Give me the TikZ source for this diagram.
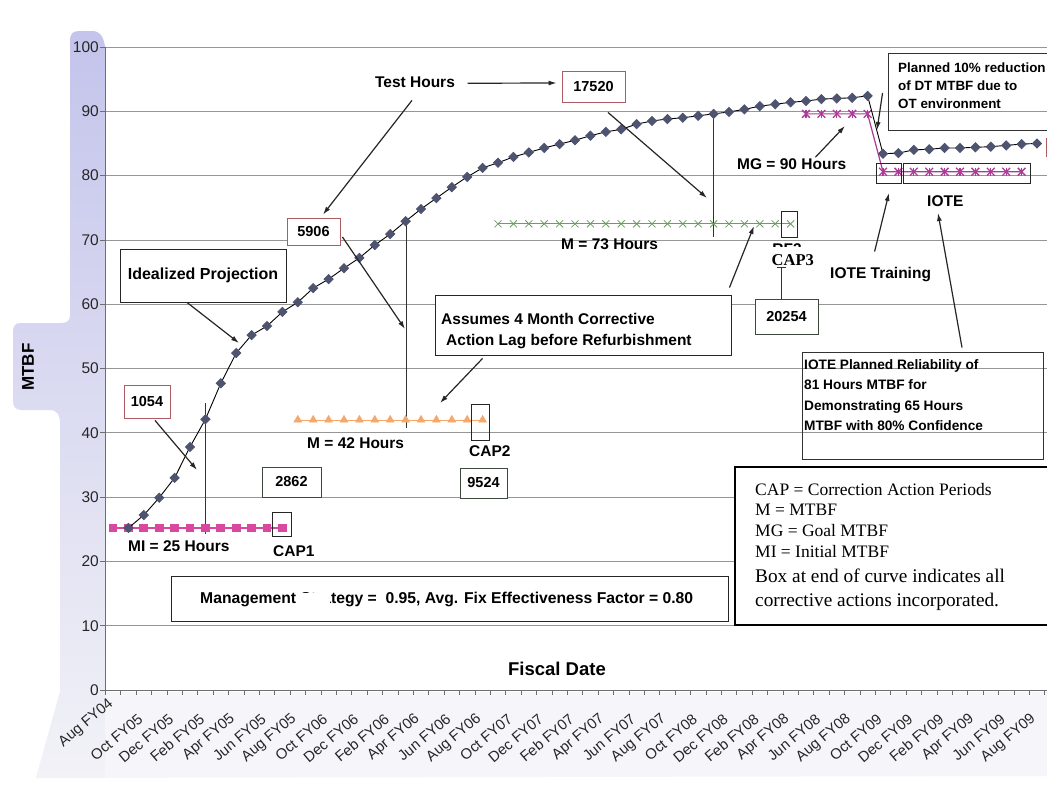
\documentclass[tikz,border=0pt]{standalone}
\usepackage{fontspec}
\setmainfont{Liberation Sans}
\newfontfamily\serifnote{Liberation Serif}
\usetikzlibrary{arrows.meta,plotmarks,calc}

\definecolor{panelTop}{RGB}{196,196,236}
\definecolor{panelMid}{RGB}{214,214,241}
\definecolor{panelBot}{RGB}{242,242,247}
\definecolor{band}{RGB}{246,246,250}
\definecolor{gridc}{RGB}{150,150,150}
\definecolor{diam}{RGB}{78,84,112}
\definecolor{sqpink}{RGB}{216,72,158}
\definecolor{triorange}{RGB}{244,168,108}
\definecolor{xgreen}{RGB}{108,158,98}
\definecolor{starmag}{RGB}{172,58,150}
\definecolor{boxred}{RGB}{172,92,98}
\definecolor{boxdark}{RGB}{62,72,62}
\definecolor{axisc}{RGB}{110,110,110}

\begin{document}
\begin{tikzpicture}[x=1pt,y=-1pt,
  lab/.style={font=\fontsize{15.5}{18}\selectfont\bfseries, inner sep=0pt},
  labsmall/.style={font=\fontsize{13.4}{16}\selectfont\bfseries, inner sep=0pt, anchor=base west},
  ylab/.style={font=\fontsize{15.5}{18}\selectfont, text=black!85, inner sep=0pt},
  xlab/.style={font=\fontsize{14.8}{17}\selectfont, text=black!85, inner sep=0pt, rotate=40, anchor=east},
  numbox/.style={draw=#1, fill=white, line width=0.9pt, font=\fontsize{14.5}{17}\selectfont\bfseries, inner sep=0pt},
  plainbox/.style={draw=black!85, fill=white, line width=0.9pt, inner sep=0pt},
  openbox/.style={draw=black!80, line width=0.9pt, inner sep=0pt},
  capbox/.style={draw=black!85, line width=0.9pt},
  pointer/.style={black!85, line width=1.2pt, -{Latex[length=8pt,width=5pt]}},
  guide/.style={black!80, line width=1pt},
  note/.style={font=\serifnote\fontsize{17.5}{21}\selectfont, inner sep=0pt, anchor=base west},
  notebig/.style={font=\serifnote\fontsize{19.3}{23}\selectfont, inner sep=0pt, anchor=base west},
  gridline/.style={gridc, line width=0.8pt},
]
\useasboundingbox (0,0) rectangle (1047,795);
\fill[white] (0,0) rectangle (1047,795);

% tinted panel behind the value axis and the band below the date axis
\fill[band] (36,778) -- (60,692) -- (1047,692) -- (1047,776) -- cycle;
\shade[top color=panelTop, middle color=panelMid, bottom color=panelBot]
  (105,46) .. controls (103,36) and (100,31) .. (92,31) -- (79,31)
  .. controls (73,31) and (70,34) .. (70,40) -- (70,315)
  .. controls (70,321) and (67,323) .. (61,323) -- (21,323)
  .. controls (15,323) and (13,326) .. (13,332) -- (13,401)
  .. controls (13,407) and (16,410) .. (22,410) -- (50,410)
  .. controls (57,410) and (60,415) .. (60,423) -- (60,692)
  -- (36,778) -- (105,778) -- cycle;

% grid and axes
\foreach \v in {10,20,...,100}
  \draw[gridline] (105,{690-6.43*\v}) -- (1047,{690-6.43*\v});
\draw[axisc, line width=0.9pt] (105,47) -- (105,690) -- (1047,690);
\foreach \v in {0,10,...,100}{
  \draw[axisc, line width=0.8pt] (100,{690-6.43*\v}) -- (105,{690-6.43*\v});
  \node[ylab, anchor=east] (yl\v) at (99,{690-6.43*\v}) {\v};
}
\foreach \k in {0,...,61}
  \draw[axisc, line width=0.8pt] ({105.3+15.4*\k},690) -- ++(0,5);
\node[xlab] (xl0) at (111.5,702) {Aug FY04};
\foreach \lab [count=\j from 1] in {Oct FY05, Dec FY05, Feb FY05, Apr FY05, Jun FY05, Aug FY05,
  Oct FY06, Dec FY06, Feb FY06, Apr FY06, Jun FY06, Aug FY06,
  Oct FY07, Dec FY07, Feb FY07, Apr FY07, Jun FY07, Aug FY07,
  Oct FY08, Dec FY08, Feb FY08, Apr FY08, Jun FY08, Aug FY08,
  Oct FY09, Dec FY09, Feb FY09, Apr FY09, Jun FY09, Aug FY09}
  \node[xlab] (xl\j) at ({109.8+30.8*\j},717) {\lab};

% guide lines from the curve to the milestone levels
\draw[guide] (205,403) -- (205,534);
\draw[guide] (406,222) -- (406,428);
\draw[guide] (713,112) -- (713,237);

% data series: month index along x, MTBF along y
\begin{scope}[shift={(113,690)}, x=15.4pt, y=6.43pt]
  \draw[sqpink, line width=1.6pt] plot[mark=square*, mark size=3.6pt, domain=0:11, samples=12] (\x,25.2);
  \draw[triorange, line width=0.8pt] plot[mark=triangle*, mark size=4.3pt, domain=12:24, samples=13] (\x,42);
  \draw[xgreen, line width=0.8pt] plot[mark=x, mark size=5pt, domain=25:44, samples=20] (\x,72.5);
  \draw[starmag, line width=1.2pt] plot coordinates {(45,89.6) (49,89.6) (50,80.6) (59,80.6)};
  \draw[starmag, line width=1.3pt] plot[only marks, mark=x, mark size=5.5pt] coordinates
    {(45,89.6) (46,89.6) (47,89.6) (48,89.6) (49,89.6) (50,80.6) (51,80.6) (52,80.6) (53,80.6)
     (54,80.6) (55,80.6) (56,80.6) (57,80.6) (58,80.6) (59,80.6)};
  \draw[starmag, line width=1.3pt] plot[only marks, mark=|, mark size=4.2pt] coordinates
    {(45,89.6) (46,89.6) (47,89.6) (48,89.6) (49,89.6) (50,80.6) (51,80.6) (52,80.6) (53,80.6)
     (54,80.6) (55,80.6) (56,80.6) (57,80.6) (58,80.6) (59,80.6)};
  \draw[black, line width=0.9pt] plot[mark=square*, mark size=3.2pt,
      mark options={rotate=45, fill=diam, draw=diam}] coordinates {
    (1,25.2) (2,27.2) (3,29.9) (4,33.0) (5,37.8) (6,42.1) (7,47.7) (8,52.4) (9,55.2) (10,56.6)
    (11,58.8) (12,60.3) (13,62.5) (14,63.9) (15,65.6) (16,67.2) (17,69.2) (18,70.9) (19,72.9)
    (20,74.8) (21,76.5) (22,78.2) (23,79.8) (24,81.2) (25,82.0) (26,82.9) (27,83.6) (28,84.3)
    (29,84.9) (30,85.5) (31,86.2) (32,86.8) (33,87.2) (34,88.0) (35,88.5) (36,88.8) (37,89.0)
    (38,89.3) (39,89.6) (40,89.9) (41,90.3) (42,90.8) (43,91.1) (44,91.4) (45,91.6) (46,91.9)
    (47,92.0) (48,92.1) (49,92.4) (50,83.4) (51,83.5) (52,84.0) (53,84.1) (54,84.3) (55,84.3)
    (56,84.4) (57,84.5) (58,84.7) (59,84.9) (60,85.0)};
\end{scope}

% corrective action period boxes
\draw[capbox] (272,512) rectangle (291,536);
\draw[capbox] (471,404) rectangle (489,440);
\draw[capbox] (781,211) rectangle (797,237);
\draw[capbox] (876,163) rectangle (901,183);
\draw[capbox] (903,163) rectangle (1030,183);

% test hour boxes
\node[numbox=boxred, minimum width=46pt, minimum height=33pt] (n1054) at (147,401.5) {1054};
\node[numbox=boxdark, minimum width=59pt, minimum height=30pt] (n2862) at (291.5,482) {2862};
\node[numbox=boxred, minimum width=53pt, minimum height=27pt] (n5906) at (313.5,231.5) {5906};
\node[numbox=boxdark, minimum width=47pt, minimum height=30pt] (n9524) at (483.5,483) {9524};
\node[numbox=boxred, minimum width=63pt, minimum height=31pt] (n17520) at (593.5,86.5) {17520};
\node[numbox=boxdark, minimum width=63pt, minimum height=35pt] (n20254) at (786.5,316.5) {20254};

% text boxes
\node[plainbox, minimum width=166pt, minimum height=53pt, font=\fontsize{16}{19}\selectfont\bfseries] (ideal) at (203,275.5) {Idealized Projection};
\node[plainbox, minimum width=296pt, minimum height=60pt] (assume) at (583,325) {};
\node[lab, anchor=base west] (assume1) at (441,324) {Assumes 4 Month Corrective};
\node[lab, anchor=base west] (assume2) at (446,345.5) {Action Lag before Refurbishment};
\node[plainbox, minimum width=557pt, minimum height=45pt] (mgmt) at (449.5,598.5) {};
\node[lab, font=\fontsize{15.7}{18}\selectfont\bfseries, anchor=base west] (mgmttext) at (200,603.5)
  {Management Strategy =\ \ 0.95, Avg. Fix Effectiveness Factor = 0.80};
\fill[white] (297,593) rectangle (330,609);
\node[openbox, minimum width=162pt, minimum height=77pt] (planned) at (969,91.5) {};
\node[labsmall] (pl1) at (898,72) {Planned 10\% reduction};
\node[labsmall] (pl2) at (898,90) {of DT MTBF due to};
\node[labsmall] (pl3) at (898,108) {OT environment};
\node[openbox, minimum width=241pt, minimum height=107pt] (iplan) at (922.5,405.5) {};
\node[labsmall, font=\fontsize{13.7}{16}\selectfont\bfseries] (ip1) at (804,369) {IOTE Planned Reliability of};
\node[labsmall, font=\fontsize{13.7}{16}\selectfont\bfseries] (ip2) at (804,389) {81 Hours MTBF for};
\node[labsmall, font=\fontsize{13.7}{16}\selectfont\bfseries] (ip3) at (804,410) {Demonstrating 65 Hours};
\node[labsmall, font=\fontsize{13.7}{16}\selectfont\bfseries] (ip4) at (804,430) {MTBF with 80\% Confidence};
\draw[boxred, line width=1pt] (1046,138) -- (1046,157);

% legend
\node[draw=black, line width=2pt, fill=white, minimum width=315pt, minimum height=158pt, inner sep=0pt] (legend) at (892.5,546) {};
\node[note] (lg1) at (755,495.5) {CAP = Correction Action Periods};
\node[note] (lg2) at (755,515.7) {M = MTBF};
\node[note] (lg3) at (755,536.7) {MG = Goal MTBF};
\node[note] (lg4) at (755,557.7) {MI = Initial MTBF};
\node[notebig] (lg5) at (755,582.3) {Box at end of curve indicates all};
\node[notebig] (lg6) at (755,606.7) {corrective actions incorporated.};

% series labels
\node[lab, anchor=base] (testh) at (415,87.5) {Test Hours};
\node[lab, anchor=base west] (m42) at (307,448) {M = 42 Hours};
\node[lab, anchor=base west] (mi25) at (128,551.5) {MI = 25 Hours};
\node[lab, anchor=base west] (cap1) at (273,556.5) {CAP1};
\node[lab, anchor=base west] (cap2) at (469,456.5) {CAP2};
\node[lab, anchor=base west] (m73) at (561,249) {M = 73 Hours};
\node[lab, anchor=base west] (mg90) at (737,169.3) {MG = 90 Hours};
\node[lab, anchor=base west] (iote) at (927,206) {IOTE};
\node[lab, anchor=base west] (iotetr) at (830,278) {IOTE Training};
\node[lab, anchor=base] (rf3) at (787,254.5) {RF3};
\node[font=\serifnote\fontsize{16.5}{19}\selectfont\bfseries, fill=white, inner xsep=1pt, inner ysep=7pt, anchor=base west] (cap3) at (770.5,265) {CAP3};
\node[font=\fontsize{18.5}{22}\selectfont\bfseries, anchor=base] (fiscal) at (557,675) {Fiscal Date};
\node[font=\fontsize{17}{20}\selectfont\bfseries, rotate=90] (mtbf) at (28,367) {MTBF};

% pointer arrows
\coordinate (t1054) at (197,470);
\coordinate (t5906) at (405,329);
\coordinate (t17520) at (707,198);
\coordinate (tideal) at (239,343);
\coordinate (tassumeA) at (440,403);
\coordinate (tassumeB) at (754,226);
\coordinate (tmg) at (845,126);
\coordinate (tplanned) at (877,130);
\coordinate (ttrain) at (889,193);
\coordinate (tiote) at (938,213);
\draw[pointer] ($(n1054.south)+(8,2)$) -- (t1054);
\draw[pointer] ($(testh.south)+(-3,12.5)$) -- ($(n5906.north)+(9.5,-3)$);
\draw[pointer] ($(testh.east)+(12.5,1)$) -- ($(n17520.west)+(-5,-3.5)$);
\draw[pointer] ($(n5906.east)+(2,5.5)$) -- (t5906);
\draw[pointer] ($(n17520.south)+(14.5,10)$) -- (t17520);
\draw[pointer] ($(ideal.south)+(-16,0)$) -- (tideal);
\draw[pointer] ($(assume.south west)+(48,3)$) -- (tassumeA);
\draw[pointer] ($(assume.north east)+(-2,-7)$) -- (tassumeB);
\draw[pointer] ($(mg90.north east)+(-31,-1)$) -- (tmg);
\draw[pointer] ($(planned.west)+(-5,1.5)$) -- (tplanned);
\draw[pointer] ($(iotetr.north)+(-6,-15)$) -- (ttrain);
\draw[pointer] ($(iplan.north)+(39.5,-4)$) -- (tiote);
\draw[guide, {Bar[width=9pt]}-] ($(n20254.north)+(-5.5,-32)$) -- ($(n20254.north)+(-5.5,0)$);
\end{tikzpicture}
\end{document}
